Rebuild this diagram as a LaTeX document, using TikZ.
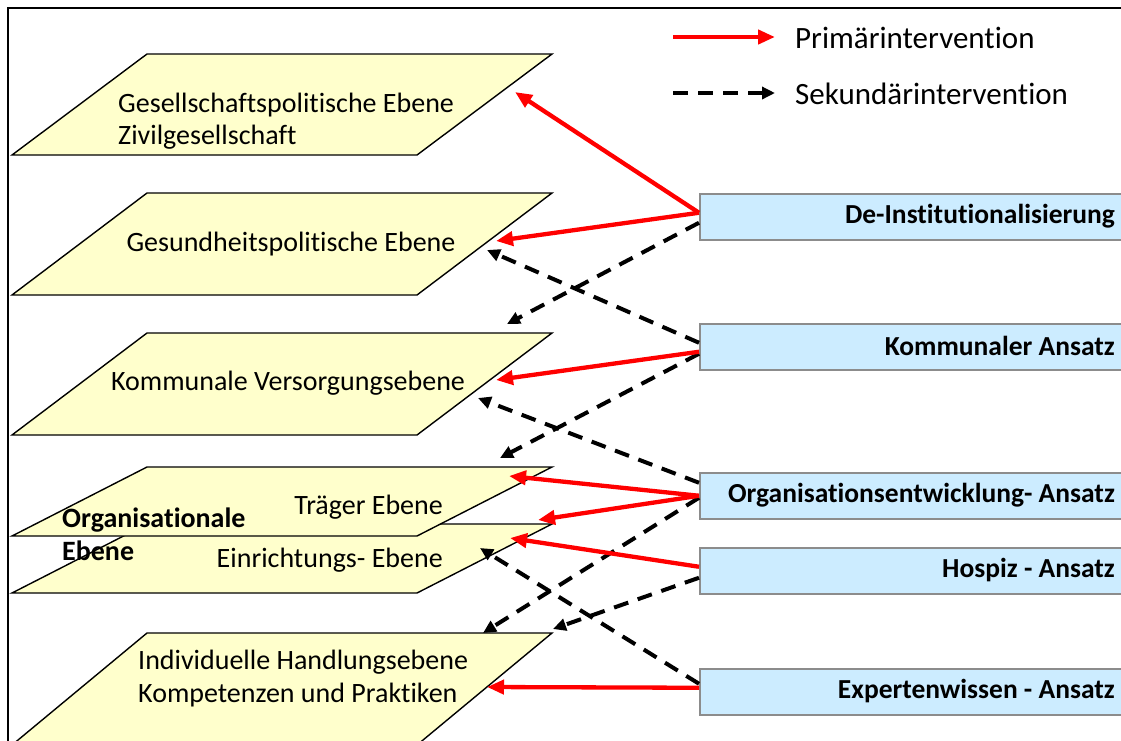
\documentclass[tikz,border=0pt]{standalone}
\usepackage{fontspec}
\setmainfont{Carlito}[RawFeature={-liga;-clig;-calt}]
\usetikzlibrary{arrows.meta,calc}

\definecolor{planefill}{RGB}{255,255,204}
\definecolor{boxfill}{RGB}{204,236,255}
\definecolor{boxline}{RGB}{140,140,140}
\definecolor{primred}{RGB}{255,0,0}

\tikzset{
  plane/.style={draw=black, line width=1.4pt, fill=planefill, line join=miter},
  planetext/.style={font=\fontsize{28}{32}\selectfont, align=left, inner sep=0pt},
  orgtext/.style={font=\bfseries\fontsize{28}{33}\selectfont, align=left, inner sep=0pt},
  approach/.style={draw=boxline, line width=1.5pt, fill=boxfill, minimum width=430pt,
    minimum height=46pt, anchor=north west, inner sep=0pt},
  approachtext/.style={font=\bfseries\fontsize{27.5}{32}\selectfont, anchor=east, inner sep=0pt},
  legendtext/.style={font=\fontsize{31}{36}\selectfont, anchor=west, inner sep=0pt},
  primary/.style={draw=primred, line width=4.3pt, -{Triangle[length=17pt,width=14pt]}},
  secondary/.style={draw=black, line width=4pt, dash pattern=on 15pt off 10pt,
    -{Triangle[length=13pt,width=12pt]}},
}

\begin{document}
\begin{tikzpicture}[x=1pt, y=-1pt]
  \clip (0,0) rectangle (1121,740);
  \fill[white] (0,0) rectangle (1121,740);

  % outer frame
  \draw[line width=1.8pt] (8,8) rectangle (1140,760);

  % levels (planes)
  \draw[plane] (12,155) -- (147,54) -- (552,54) -- (417,155) -- cycle;
  \draw[plane] (12,295) -- (147,193) -- (552,193) -- (417,295) -- cycle;
  \draw[plane] (12,435) -- (147,333) -- (552,333) -- (417,435) -- cycle;
  \draw[plane] (12,593) -- (147,524) -- (552,524) -- (417,593) -- cycle;
  \draw[plane] (12,536) -- (147,467) -- (552,467) -- (417,536) -- cycle;
  \draw[plane] (12,745) -- (147,633) -- (552,633) -- (417,745) -- cycle;

  % level labels
  \node[planetext, anchor=west] (gesell) at (118,121)
    {Gesellschaftspolitische Ebene\\Zivilgesellschaft};
  \node[planetext] (gesund) at (291,244) {Gesundheitspolitische Ebene};
  \node[planetext] (kommv) at (288,383) {Kommunale Versorgungsebene};
  \node[planetext, anchor=east] (traeger) at (443,507) {Träger Ebene};
  \node[planetext, anchor=east] (einr) at (443,560) {Einrichtungs- Ebene};
  \node[orgtext, anchor=west] (orga) at (62,534) {Organisationale\\Ebene};
  \node[planetext, anchor=west, font=\fontsize{28}{33}\selectfont] (indiv) at (138,679)
    {Individuelle Handlungsebene\\Kompetenzen und Praktiken};

  % arrow targets on the planes
  \coordinate (tGesellR) at (515,92);
  \coordinate (tGesundR) at (496,241);
  \coordinate (tGesundD) at (487,250);
  \coordinate (tKommTop) at (507,324);
  \coordinate (tKommR) at (496,380);
  \coordinate (tKommD) at (478,398);
  \coordinate (tTraegTop) at (500,458);
  \coordinate (tTraegR) at (509,476);
  \coordinate (tEinrTop) at (538,520);
  \coordinate (tEinrR) at (510,538);
  \coordinate (tEinrD) at (480,548);
  \coordinate (tIndTop) at (483,633);
  \coordinate (tIndCorner) at (553,629);
  \coordinate (tIndR) at (487,687);

  % approaches
  \node[approach] (deinst) at (699,193) {};
  \node[approach] (kommA) at (699,323) {};
  \node[approach] (orgA) at (699,472) {};
  \node[approach] (hosp) at (699,547) {};
  \node[approach] (expert) at (699,668) {};
  \node[approachtext] at (1115,216) {De-Institutionalisierung};
  \node[approachtext] at (1115,346) {Kommunaler Ansatz};
  \node[approachtext] at (1115,495) {Organisationsentwicklung- Ansatz};
  \node[approachtext] at (1115,570) {Hospiz - Ansatz};
  \node[approachtext] at (1115,691) {Expertenwissen - Ansatz};

  % secondary interventions
  \draw[secondary] ([yshift=-6pt]deinst.west) -- (tKommTop);
  \draw[secondary] ([yshift=4pt]kommA.west) -- (tGesundD);
  \draw[secondary] ([yshift=-7pt]kommA.west) -- (tTraegTop);
  \draw[secondary] ([yshift=13pt]orgA.west) -- (tKommD);
  \draw[secondary] ([yshift=-2pt]orgA.west) -- (tIndTop);
  \draw[secondary] ([yshift=-7pt]hosp.west) -- (tIndCorner);
  \draw[secondary] ([yshift=8pt]expert.west) -- (tEinrD);

  % primary interventions
  \draw[primary] ([yshift=4pt]deinst.west) -- (tGesellR);
  \draw[primary] ([yshift=4pt]deinst.west) -- (tGesundR);
  \draw[primary] ([yshift=-5pt]kommA.west) -- (tKommR);
  \draw[primary] (orgA.west) -- (tTraegR);
  \draw[primary] (orgA.west) -- (tEinrTop);
  \draw[primary] ([yshift=4pt]hosp.west) -- (tEinrR);
  \draw[primary] ([yshift=4pt]expert.west) -- (tIndR);

  % legend
  \coordinate (lp0) at (673,37);
  \coordinate (lp1) at (775,37);
  \coordinate (ls0) at (673,93);
  \coordinate (ls1) at (775,93);
  \draw[primary] (lp0) -- (lp1);
  \draw[secondary] (ls0) -- (ls1);
  \node[legendtext] (lprim) at (795,38) {Primärintervention};
  \node[legendtext] (lsek) at (795,94) {Sekundärintervention};
\end{tikzpicture}
\end{document}
